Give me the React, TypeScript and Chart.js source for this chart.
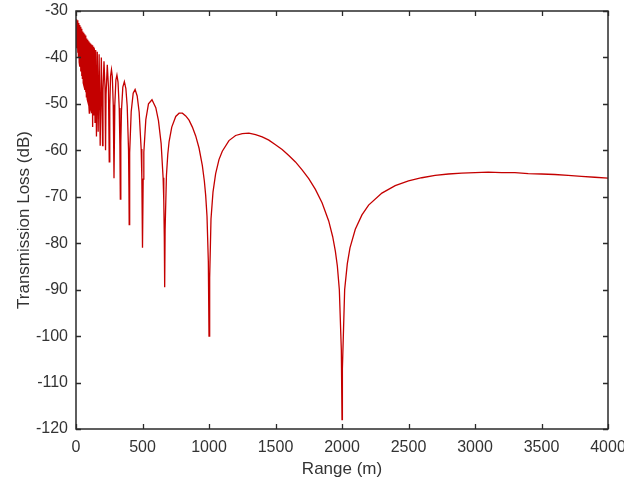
import React, { useEffect, useRef } from "react";
import { Chart, registerables } from "chart.js";

Chart.register(...registerables);

// Range (m) samples of the transmission-loss curve
const rangeValues: number[] = [
  0, 3, 6, 9, 12, 15, 18, 21, 24, 27, 30, 33, 36, 39, 42, 45, 48, 51, 54, 57,
  60, 63, 66, 69, 72, 75, 78, 81, 84, 87, 90, 93, 96,
  100, 102.6, 105.3, 108.1, 111.1, 114.3, 117.6, 121.2, 125, 129, 133.3, 137.9,
  142.9, 148.1, 153.8, 160, 166.7, 173.9, 181.8, 190.5, 200, 203, 210.5, 218,
  222.2, 226, 235.3, 244, 250, 254, 260, 266.7, 273, 280, 285.7, 292, 300, 307.7,
  316, 325, 330, 333.3, 337, 342, 352, 363.6, 375, 385, 395, 398, 400, 402, 405,
  415, 430, 444.4, 460, 475, 490, 495, 500, 505, 510, 525, 545, 571.4, 600, 620,
  640, 655, 660, 664, 666.7, 670, 680, 690, 700, 720, 750, 775, 800, 825, 850,
  875, 900, 925, 950, 965, 975, 985, 995, 1000, 1005, 1015, 1030, 1050, 1075,
  1100, 1150, 1200, 1250, 1300, 1350, 1400, 1450, 1500, 1550, 1600, 1650, 1700,
  1750, 1800, 1850, 1900, 1930, 1950, 1965, 1980, 1995, 2000, 2003, 2020, 2040,
  2060, 2100, 2150, 2200, 2300, 2400, 2500, 2600, 2700, 2800, 2900, 3000, 3100,
  3200, 3300, 3400, 3500, 3600, 3700, 3800, 3900, 4000,
];

// Transmission loss (dB)
const lossValues: number[] = [
  -36.5, -31.8, -38.0, -32.0, -39.0, -32.2, -40.0, -32.6, -41.0, -33.0, -42.0,
  -33.4, -43.0, -33.8, -44.0, -34.1, -44.5, -34.4, -45.5, -34.7, -46.0, -35.0,
  -47.0, -35.3, -47.5, -35.6, -48.5, -35.9, -49.0, -36.2, -49.5, -36.5, -50.0,
  -52.0, -36.8, -50.5, -37.0, -51.0, -37.2, -52.0, -37.4, -55.0, -37.7, -52.5,
  -38.0, -54.0, -38.4, -57.0, -38.8, -56.0, -39.3, -59.0, -40.0, -59.0, -47.1,
  -40.8, -46.4, -60.0, -47.9, -41.6, -46.4, -62.5, -50.4, -44.0, -42.6, -44.1,
  -50.2, -66.0, -50.1, -44.8, -43.8, -45.3, -50.9, -58.8, -70.5, -58.4, -51.4,
  -46.4, -45.2, -46.7, -50.5, -60.0, -68.0, -76.0, -68.2, -60.5, -51.7, -47.7,
  -46.9, -48.3, -51.8, -59.7, -65.8, -81.0, -66.2, -60.4, -53.4, -50.0, -49.1,
  -50.8, -53.6, -58.5, -65.9, -70.8, -78.9, -89.5, -77.0, -65.4, -60.9, -58.1,
  -55.0, -52.7, -52.0, -52.0, -52.6, -53.5, -55.0, -56.9, -59.5, -63.3, -66.6,
  -69.7, -74.2, -84.0, -100.0, -87.5, -74.8, -69.0, -65.0, -62.0, -60.2, -57.9,
  -56.8, -56.4, -56.3, -56.6, -57.1, -57.8, -58.8, -59.8, -61.1, -62.5, -64.2,
  -66.1, -68.4, -71.3, -75.2, -78.6, -81.7, -84.9, -90.0, -103.0, -118.0,
  -107.0, -90.0, -84.4, -81.0, -77.0, -73.9, -71.8, -69.2, -67.6, -66.6, -65.9,
  -65.4, -65.1, -64.9, -64.8, -64.7, -64.8, -64.8, -65.0, -65.1, -65.2, -65.4,
  -65.6, -65.8, -66.0,
];

const xTicks: number[] = [0, 500, 1000, 1500, 2000, 2500, 3000, 3500, 4000];
const yTicks: number[] = [-120, -110, -100, -90, -80, -70, -60, -50, -40, -30];

const FONT = "'Liberation Sans', Arial, sans-serif";

const frameTicks = {
  id: "frameTicks",
  afterDraw(chart: any) {
    const { ctx, chartArea } = chart;
    const xs = chart.scales.x;
    const ys = chart.scales.y;
    const { left, right, top, bottom } = chartArea;
    const len = 5;
    ctx.save();
    ctx.strokeStyle = "#2a2a2a";
    ctx.lineWidth = 1.3;
    ctx.beginPath();
    for (const v of xTicks) {
      const px = Math.round(xs.getPixelForValue(v)) + 0.5;
      ctx.moveTo(px, bottom);
      ctx.lineTo(px, bottom - len);
      ctx.moveTo(px, top);
      ctx.lineTo(px, top + len);
    }
    for (const v of yTicks) {
      const py = Math.round(ys.getPixelForValue(v)) + 0.5;
      ctx.moveTo(left, py);
      ctx.lineTo(left + len, py);
      ctx.moveTo(right, py);
      ctx.lineTo(right - len, py);
    }
    ctx.stroke();
    ctx.lineWidth = 1.5;
    ctx.strokeRect(left, top, right - left, bottom - top);
    ctx.restore();
  },
};

export default function App() {
  const canvasRef = useRef<HTMLCanvasElement | null>(null);

  useEffect(() => {
    const canvas = canvasRef.current;
    if (!canvas) return;
    const points = rangeValues.map((r, i) => ({ x: r, y: lossValues[i] }));
    const chart = new Chart(canvas, {
      type: "line",
      data: {
        datasets: [
          {
            data: points,
            borderColor: "#c40000",
            borderWidth: 1.3,
            pointRadius: 0,
            tension: 0,
            fill: false,
          },
        ],
      },
      options: {
        animation: false,
        responsive: false,
        maintainAspectRatio: false,
        layout: { padding: { left: 0, top: 11, right: 16, bottom: 0 } },
        plugins: {
          legend: { display: false },
          tooltip: { enabled: false },
        },
        scales: {
          x: {
            type: "linear",
            min: 0,
            max: 4000,
            afterBuildTicks: (scale: any) => {
              scale.ticks = xTicks.map((v) => ({ value: v }));
            },
            afterFit: (scale: any) => {
              scale.height = 54;
              scale.paddingLeft = 0;
              scale.paddingRight = 0;
            },
            grid: { display: false, drawTicks: false },
            border: { display: false },
            ticks: {
              autoSkip: false,
              maxRotation: 0,
              padding: 9,
              color: "#333333",
              font: { family: FONT, size: 16 },
              callback: (v: any) => String(v),
            },
            title: {
              display: true,
              text: "Range (m)",
              color: "#333333",
              font: { family: FONT, size: 17 },
              padding: { top: 0, bottom: 3 },
            },
          },
          y: {
            type: "linear",
            min: -120,
            max: -30,
            afterBuildTicks: (scale: any) => {
              scale.ticks = yTicks.map((v) => ({ value: v }));
            },
            afterFit: (scale: any) => {
              scale.width = 76;
              scale.paddingTop = 0;
              scale.paddingBottom = 0;
            },
            grid: { display: false, drawTicks: false },
            border: { display: false },
            ticks: {
              autoSkip: false,
              padding: 8,
              color: "#333333",
              font: { family: FONT, size: 16 },
              callback: (v: any) => String(v),
            },
            title: {
              display: true,
              text: "Transmission Loss (dB)",
              color: "#333333",
              font: { family: FONT, size: 17 },
              padding: { top: 14, bottom: 0 },
            },
          },
        },
      },
      plugins: [frameTicks],
    });
    return () => chart.destroy();
  }, []);

  return (
    <div
      style={{
        position: "fixed",
        left: 0,
        top: 0,
        width: 624,
        height: 483,
        background: "#ffffff",
      }}
    >
      <canvas ref={canvasRef} width={624} height={483} style={{ display: "block" }} />
    </div>
  );
}
